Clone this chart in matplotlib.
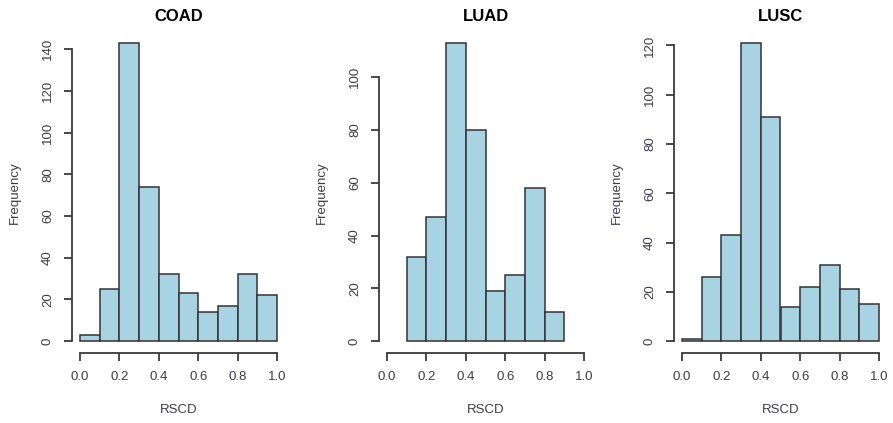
import matplotlib
matplotlib.use("Agg")
import matplotlib.pyplot as plt
import numpy as np

plt.rcParams['font.family'] = ['Liberation Sans', 'DejaVu Sans']

titles = ["COAD", "LUAD", "LUSC"]
bin_edges = [0.0, 0.1, 0.2, 0.3, 0.4, 0.5, 0.6, 0.7, 0.8, 0.9, 1.0]

coad_counts = [3, 25, 143, 74, 32, 23, 14, 17, 32, 22]
coad_start = 0.0
luad_counts = [32, 47, 113, 80, 19, 25, 58, 11]
luad_start = 0.1
lusc_counts = [1, 26, 43, 121, 91, 14, 22, 31, 21, 15]
lusc_start = 0.0

coad_yticks = [0, 20, 40, 60, 80, 100, 120, 140]
luad_yticks = [0, 20, 40, 60, 80, 100]
lusc_yticks = [0, 20, 40, 60, 80, 100, 120]
xticks = [0.0, 0.2, 0.4, 0.6, 0.8, 1.0]
xtick_labels = ["0.0", "0.2", "0.4", "0.6", "0.8", "1.0"]

W, H = 893, 423
fig = plt.figure(figsize=(W / 100, H / 100), dpi=100)

lefts_px = [72, 379, 674]
top_px, bottom_px = 31, 353
width_px = 213

panels = [
    (coad_counts, coad_start, coad_yticks),
    (luad_counts, luad_start, luad_yticks),
    (lusc_counts, lusc_start, lusc_yticks),
]

txt_col = "#3e3b48"
line_col = "#3a3a3a"

for i, (counts, start, yt) in enumerate(panels):
    l = lefts_px[i]
    ax = fig.add_axes([l / W, 1 - bottom_px / H, width_px / W, (bottom_px - top_px) / H])
    i0 = int(round(start * 10))
    lefts = bin_edges[i0:i0 + len(counts)]
    ax.bar(lefts, counts, width=0.1, align='edge', color='#a8d3e3',
           edgecolor='#333333', linewidth=1.1)
    ymax = max(counts)
    ax.set_xlim(-0.04, 1.04)
    ax.set_ylim(-0.04 * ymax, 1.04 * ymax)
    for s in ['top', 'right']:
        ax.spines[s].set_visible(False)
    for s in ['left', 'bottom']:
        ax.spines[s].set_linewidth(1.3)
        ax.spines[s].set_color(line_col)
    ax.spines['left'].set_bounds(yt[0], yt[-1])
    ax.spines['bottom'].set_bounds(0.0, 1.0)
    ax.set_xticks(xticks)
    ax.set_xticklabels(xtick_labels)
    ax.set_yticks(yt)
    ax.set_yticklabels([str(v) for v in yt])
    ax.tick_params(axis='both', length=5.5, width=1.3, color=line_col,
                   labelsize=9.5, labelcolor=txt_col)
    ax.tick_params(axis='x', pad=7.5)
    ax.tick_params(axis='y', pad=7.5, labelrotation=90)
    for lab in ax.get_yticklabels():
        lab.set_va('center')
    ax.set_title(titles[i], fontsize=12, fontweight='bold', color='black', pad=7.5)
    ax.set_xlabel("RSCD", fontsize=9.5, color=txt_col, va='center')
    ax.xaxis.set_label_coords(0.5, -0.177)
    ax.set_ylabel("Frequency", fontsize=9.5, color=txt_col, va='center')
    ax.yaxis.set_label_coords(-0.268, 0.497)

fig.savefig("out.png", dpi=100, facecolor='white')
